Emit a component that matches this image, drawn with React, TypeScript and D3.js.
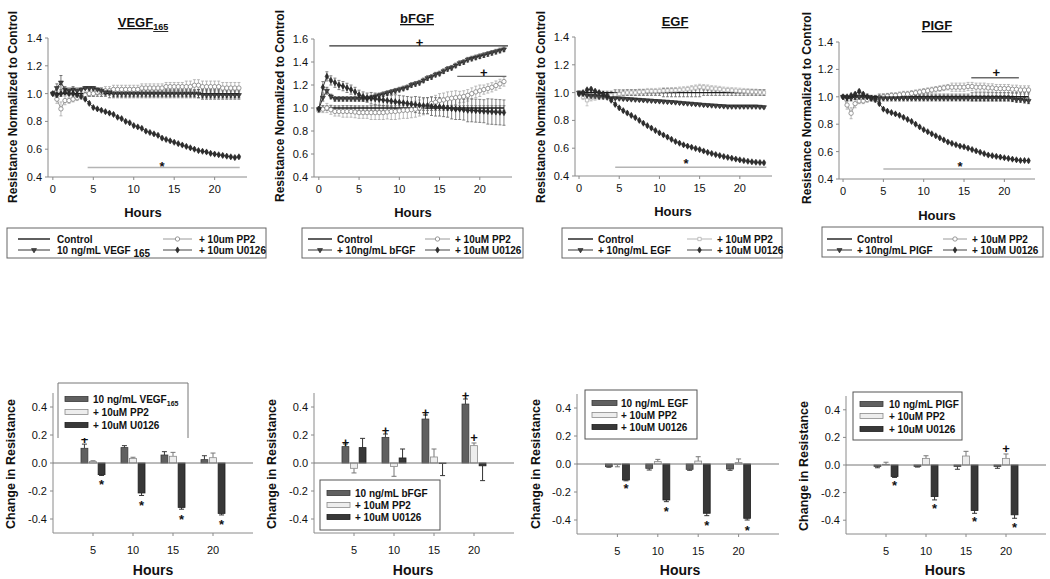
import React from "react";
import * as d3 from "d3";

const FONT = "'Liberation Sans', Arial, Helvetica, sans-serif";

// ---------------- time course data (hours) ----------------
const HOURS = [0,0.5,1,1.5,2,2.5,3,3.5,4,4.5,5,5.5,6,6.5,7,7.5,8,8.5,9,9.5,10,10.5,11,11.5,12,12.5,13,13.5,14,14.5,15,15.5,16,16.5,17,17.5,18,18.5,19,19.5,20,20.5,21,21.5,22,22.5,23];
const TOP_X_TICKS = [0, 5, 10, 15, 20];

// VEGF165
const VEGF_CONTROL = [1,1,1,1,1,1,1,1,1,1, 1,1,1,1,1,1,1,1,1,1, 1,1,1,1,1,1,1,1,1,1, 1,1,1,1,1,1,1,1,1,1, 1,1,1,1,1,1,1];
const VEGF_CONTROL_ERR = [0,0.01,0.02,0.01,0.01,0.01,0.01,0.01,0.01,0.02, 0.02,0.02,0.02,0.02,0.03,0.03,0.03,0.03,0.03,0.03, 0.03,0.03,0.03,0.03,0.03,0.03,0.03,0.03,0.03,0.03, 0.03,0.03,0.03,0.03,0.03,0.03,0.03,0.03,0.03,0.03, 0.03,0.03,0.03,0.03,0.03,0.03,0.03];
const VEGF_TREAT = [1.00,1.04,1.08,1.03,1.02,1.03,1.02,1.03,1.04,1.04, 1.04,1.03,1.02,1.01,1.01,1.00,1.00,1.00,1.00,1.00, 1.00,1.00,1.00,1.00,1.00,1.00,1.00,1.00,1.00,1.00, 1.00,1.00,1.00,1.00,1.00,1.00,1.00,0.99,0.99,0.99, 0.99,0.99,0.99,0.99,0.99,0.99,0.99];
const VEGF_TREAT_ERR = [0.01,0.03,0.05,0.02,0.02,0.02,0.02,0.01,0.01,0.01, 0.01,0.01,0.02,0.02,0.02,0.02,0.02,0.02,0.02,0.02, 0.02,0.02,0.02,0.02,0.02,0.02,0.02,0.02,0.02,0.02, 0.02,0.02,0.02,0.02,0.02,0.02,0.03,0.03,0.03,0.03, 0.03,0.03,0.03,0.03,0.03,0.03,0.03];
const VEGF_PP2 = [1.00,0.96,0.89,0.95,0.95,0.96,0.97,0.98,0.99,1.00, 1.00,1.01,1.01,1.02,1.02,1.03,1.03,1.03,1.03,1.03, 1.03,1.03,1.04,1.04,1.04,1.04,1.04,1.04,1.05,1.05, 1.05,1.05,1.05,1.05,1.05,1.06,1.06,1.05,1.05,1.05, 1.05,1.05,1.04,1.04,1.04,1.04,1.04];
const VEGF_PP2_ERR = [0.01,0.03,0.05,0.03,0.02,0.02,0.02,0.02,0.02,0.02, 0.02,0.02,0.03,0.03,0.03,0.03,0.03,0.03,0.03,0.03, 0.03,0.03,0.03,0.03,0.03,0.03,0.03,0.03,0.03,0.03, 0.03,0.03,0.03,0.04,0.04,0.04,0.04,0.04,0.04,0.04, 0.04,0.04,0.04,0.04,0.04,0.04,0.04];
const VEGF_U0126 = [1.00,0.99,1.00,1.01,1.00,1.00,0.99,0.98,0.96,0.93, 0.90,0.89,0.88,0.87,0.86,0.85,0.83,0.82,0.80,0.79, 0.77,0.76,0.75,0.73,0.72,0.71,0.70,0.68,0.67,0.66, 0.65,0.64,0.63,0.62,0.61,0.60,0.59,0.585,0.58,0.57, 0.565,0.56,0.555,0.55,0.545,0.54,0.545];
const VEGF_U0126_ERR = [0.01,0.01,0.01,0.01,0.01,0.01,0.01,0.01,0.01,0.01, 0.01,0.01,0.01,0.01,0.01,0.01,0.01,0.01,0.01,0.01, 0.01,0.01,0.01,0.01,0.01,0.01,0.01,0.01,0.01,0.01, 0.01,0.01,0.01,0.01,0.01,0.01,0.01,0.01,0.01,0.01, 0.01,0.01,0.01,0.01,0.01,0.01,0.01];

// bFGF
const BFGF_CONTROL = [1,1,1,1,1,1,1,1,1,1, 1,1,1,1,1,1,1,1,1,1, 1,1,1,1,1,1,1,1,1,1, 1,1,1,1,1,1,1,1,1,1, 1,1,1,1,1,1,1];
const BFGF_CONTROL_ERR = [0,0.02,0.02,0.02,0.02,0.02,0.02,0.02,0.02,0.02, 0.02,0.02,0.02,0.02,0.02,0.02,0.02,0.02,0.02,0.02, 0.02,0.02,0.02,0.02,0.02,0.02,0.02,0.02,0.02,0.02, 0.02,0.02,0.02,0.02,0.02,0.02,0.02,0.02,0.02,0.02, 0.02,0.02,0.02,0.02,0.02,0.02,0.02];
const BFGF_TREAT = [0.99,1.09,1.15,1.10,1.08,1.08,1.08,1.08,1.08,1.08, 1.08,1.08,1.08,1.09,1.10,1.11,1.12,1.13,1.14,1.15, 1.16,1.17,1.18,1.20,1.21,1.22,1.24,1.26,1.27,1.29, 1.30,1.32,1.34,1.35,1.37,1.39,1.40,1.42,1.43,1.44, 1.45,1.46,1.47,1.48,1.49,1.50,1.51];
const BFGF_TREAT_ERR = [0.01,0.03,0.03,0.02,0.02,0.02,0.02,0.02,0.02,0.02, 0.02,0.02,0.02,0.02,0.02,0.02,0.02,0.02,0.02,0.02, 0.02,0.02,0.02,0.02,0.02,0.02,0.02,0.02,0.02,0.02, 0.02,0.02,0.02,0.02,0.02,0.02,0.02,0.02,0.02,0.02, 0.02,0.02,0.02,0.02,0.02,0.02,0.02];
const BFGF_PP2 = [0.98,0.99,1.00,0.985,0.97,0.97,0.97,0.97,0.97,0.965, 0.96,0.96,0.96,0.96,0.96,0.96,0.96,0.965,0.97,0.97, 0.975,0.98,0.98,0.985,0.99,1.00,1.01,1.02,1.04,1.05, 1.065,1.07,1.08,1.085,1.09,1.095,1.10,1.11,1.125,1.14, 1.15,1.16,1.17,1.18,1.195,1.21,1.23];
const BFGF_PP2_ERR = [0.02,0.03,0.04,0.04,0.04,0.04,0.05,0.05,0.05,0.05, 0.05,0.05,0.05,0.06,0.06,0.06,0.06,0.06,0.07,0.07, 0.07,0.07,0.07,0.07,0.07,0.07,0.07,0.07,0.06,0.06, 0.06,0.06,0.06,0.06,0.06,0.05,0.05,0.05,0.05,0.05, 0.05,0.04,0.04,0.04,0.04,0.04,0.04];
const BFGF_U0126 = [0.99,1.18,1.275,1.24,1.22,1.20,1.19,1.175,1.16,1.14, 1.115,1.10,1.09,1.085,1.08,1.075,1.07,1.065,1.06,1.055, 1.05,1.045,1.04,1.035,1.03,1.025,1.02,1.02,1.015,1.01, 1.01,1.005,1.00,0.995,0.99,0.99,0.985,0.98,0.98,0.977, 0.975,0.972,0.97,0.968,0.965,0.963,0.96];
const BFGF_U0126_ERR = [0.02,0.05,0.04,0.04,0.04,0.04,0.04,0.04,0.04,0.04, 0.04,0.04,0.04,0.05,0.05,0.05,0.05,0.05,0.05,0.06, 0.06,0.06,0.06,0.06,0.07,0.07,0.07,0.07,0.08,0.08, 0.08,0.08,0.08,0.09,0.09,0.09,0.09,0.10,0.10,0.10, 0.10,0.10,0.11,0.11,0.11,0.11,0.11];

// EGF
const EGF_CONTROL = [1,1,1,1,1,1,1,1,1,1, 1,1,1,1,1,1,1,1,1,1, 1,1,1,1,1,1,1,1,1,1, 1,1,1,1,1,1,1,1,1,1, 1,1,1,1,1,1,1];
const EGF_CONTROL_ERR = [0,0.01,0.01,0.01,0.01,0.01,0.01,0.01,0.01,0.02, 0.02,0.02,0.02,0.02,0.02,0.02,0.02,0.02,0.02,0.02, 0.02,0.03,0.03,0.03,0.03,0.03,0.03,0.03,0.03,0.03, 0.03,0.02,0.02,0.02,0.02,0.02,0.02,0.02,0.02,0.02, 0.02,0.02,0.02,0.02,0.02,0.02,0.02];
const EGF_TREAT = [1.00,0.99,0.98,0.975,0.975,0.97,0.97,0.965,0.96,0.96, 0.958,0.956,0.954,0.952,0.95,0.948,0.946,0.944,0.942,0.94, 0.938,0.936,0.934,0.932,0.93,0.927,0.924,0.922,0.92,0.917, 0.915,0.912,0.91,0.908,0.906,0.904,0.902,0.90,0.90,0.90, 0.90,0.90,0.90,0.90,0.90,0.898,0.895];
const EGF_TREAT_ERR = [0.01,0.01,0.01,0.01,0.01,0.01,0.01,0.01,0.01,0.01, 0.01,0.01,0.01,0.01,0.01,0.01,0.01,0.01,0.01,0.01, 0.01,0.01,0.01,0.01,0.01,0.01,0.01,0.01,0.01,0.01, 0.01,0.01,0.01,0.01,0.01,0.01,0.01,0.01,0.01,0.01, 0.01,0.01,0.01,0.01,0.01,0.01,0.01];
const EGF_PP2 = [1.00,0.97,0.945,0.96,0.965,0.97,0.97,0.975,0.98,0.985, 0.99,0.995,1.00,1.00,1.00,1.005,1.005,1.01,1.01,1.01, 1.012,1.014,1.015,1.016,1.017,1.02,1.022,1.025,1.03,1.035, 1.04,1.038,1.035,1.03,1.028,1.025,1.02,1.018,1.016,1.014, 1.012,1.01,1.008,1.006,1.005,1.002,1.00];
const EGF_PP2_ERR = [0.01,0.02,0.04,0.02,0.02,0.02,0.02,0.02,0.02,0.02, 0.02,0.02,0.02,0.02,0.02,0.02,0.02,0.02,0.02,0.02, 0.02,0.02,0.02,0.02,0.02,0.02,0.02,0.02,0.02,0.02, 0.02,0.02,0.02,0.02,0.02,0.02,0.02,0.02,0.02,0.02, 0.02,0.02,0.02,0.02,0.02,0.02,0.02];
const EGF_U0126 = [0.99,1.00,1.02,1.025,1.01,1.00,0.99,0.98,0.945,0.915, 0.89,0.87,0.853,0.836,0.82,0.80,0.78,0.762,0.745,0.727, 0.71,0.695,0.68,0.664,0.648,0.636,0.624,0.615,0.607,0.598, 0.59,0.58,0.57,0.562,0.554,0.547,0.54,0.534,0.528,0.522, 0.516,0.511,0.506,0.502,0.499,0.497,0.495];
const EGF_U0126_ERR = [0.01,0.01,0.01,0.01,0.01,0.01,0.01,0.01,0.01,0.01, 0.01,0.01,0.01,0.01,0.01,0.01,0.01,0.01,0.01,0.01, 0.01,0.01,0.01,0.01,0.01,0.01,0.01,0.01,0.01,0.01, 0.01,0.01,0.01,0.01,0.01,0.01,0.01,0.01,0.01,0.01, 0.01,0.01,0.01,0.01,0.01,0.01,0.01];

// PlGF
const PIGF_CONTROL = [1,1,1,1,1,1,1,1,1,1, 1,1,1,1,1,1,1,1,1,1, 1,1,1,1,1,1,1,1,1,1, 1,1,1,1,1,1,1,1,1,1, 1,1,1,1,1,1,1];
const PIGF_CONTROL_ERR = [0,0.01,0.01,0.01,0.01,0.01,0.01,0.01,0.01,0.02, 0.02,0.02,0.02,0.02,0.02,0.02,0.02,0.02,0.02,0.02, 0.02,0.02,0.02,0.02,0.02,0.02,0.02,0.02,0.02,0.02, 0.02,0.02,0.03,0.03,0.03,0.03,0.03,0.03,0.03,0.03, 0.03,0.03,0.03,0.03,0.03,0.03,0.03];
const PIGF_TREAT = [1.00,0.99,0.99,1.00,1.00,1.00,1.00,0.99,0.99,0.99, 0.99,0.99,0.99,0.99,0.99,0.99,0.99,0.99,0.99,0.99, 0.99,0.99,0.99,0.99,0.99,0.99,0.99,0.99,0.99,0.99, 0.99,0.99,0.99,0.99,0.99,0.99,0.99,0.99,0.99,0.99, 0.99,0.99,0.985,0.98,0.98,0.975,0.97];
const PIGF_TREAT_ERR = [0.01,0.02,0.02,0.02,0.02,0.02,0.02,0.02,0.02,0.02, 0.02,0.02,0.02,0.02,0.02,0.02,0.02,0.02,0.02,0.02, 0.02,0.02,0.02,0.02,0.02,0.02,0.02,0.02,0.02,0.02, 0.02,0.02,0.02,0.02,0.02,0.02,0.02,0.02,0.02,0.02, 0.02,0.02,0.02,0.02,0.02,0.02,0.02];
const PIGF_PP2 = [1.00,0.94,0.88,0.95,0.97,0.97,0.98,0.99,0.98,0.99, 1.00,1.005,1.01,1.01,1.015,1.02,1.02,1.025,1.03,1.035, 1.04,1.045,1.05,1.055,1.06,1.065,1.07,1.07,1.07,1.07, 1.07,1.075,1.075,1.07,1.07,1.07,1.065,1.065,1.06,1.06, 1.06,1.06,1.055,1.055,1.05,1.05,1.05];
const PIGF_PP2_ERR = [0.01,0.03,0.04,0.03,0.02,0.02,0.02,0.02,0.02,0.02, 0.02,0.02,0.02,0.02,0.02,0.02,0.02,0.02,0.02,0.02, 0.02,0.02,0.02,0.02,0.02,0.02,0.02,0.03,0.03,0.03, 0.03,0.03,0.03,0.03,0.03,0.03,0.03,0.03,0.03,0.03, 0.03,0.03,0.03,0.03,0.03,0.03,0.03];
const PIGF_U0126 = [1.00,1.00,1.01,1.02,1.04,1.02,1.00,0.99,0.98,0.95, 0.91,0.895,0.885,0.875,0.865,0.85,0.835,0.82,0.80,0.78, 0.76,0.745,0.73,0.715,0.70,0.685,0.67,0.66,0.65,0.64, 0.635,0.625,0.615,0.605,0.595,0.585,0.575,0.57,0.565,0.56, 0.555,0.55,0.545,0.54,0.535,0.535,0.533];
const PIGF_U0126_ERR = [0.01,0.01,0.01,0.01,0.01,0.01,0.01,0.01,0.01,0.01, 0.01,0.01,0.01,0.01,0.01,0.01,0.01,0.01,0.01,0.01, 0.01,0.01,0.01,0.01,0.01,0.01,0.01,0.01,0.01,0.01, 0.01,0.01,0.01,0.01,0.01,0.01,0.01,0.01,0.01,0.01, 0.01,0.01,0.01,0.01,0.01,0.01,0.01];

// significance annotations (hours, value)
const VEGF_SIG_LINES = [{ h0: 4.3, h1: 23.1, v: 0.468, kind: "light" }];
const VEGF_SIG_MARKS = [{ h: 13.5, v: 0.5, sym: "*" }];
const BFGF_SIG_LINES = [{ h0: 1.3, h1: 23.5, v: 1.54, kind: "dark" }, { h0: 17.2, h1: 23.3, v: 1.275, kind: "mid" }];
const BFGF_SIG_MARKS = [{ h: 12.5, v: 1.57, sym: "+" }, { h: 20.5, v: 1.31, sym: "+" }];
const EGF_SIG_LINES = [{ h0: 4.5, h1: 23.3, v: 0.463, kind: "light" }];
const EGF_SIG_MARKS = [{ h: 13.3, v: 0.515, sym: "*" }];
const PIGF_SIG_LINES = [{ h0: 5, h1: 23.3, v: 0.473, kind: "light" }, { h0: 15.9, h1: 21.8, v: 1.139, kind: "mid" }];
const PIGF_SIG_MARKS = [{ h: 14.5, v: 0.516, sym: "*" }, { h: 19, v: 1.18, sym: "+" }];

// ---------------- bar data ----------------
const BAR_HOURS = [5, 10, 15, 20];
const VEGF_BAR_TREAT = [0.105, 0.11, 0.057, 0.024];
const VEGF_BAR_TREAT_ERR = [0.03, 0.014, 0.024, 0.028];
const VEGF_BAR_PP2 = [0.01, 0.033, 0.048, 0.038];
const VEGF_BAR_PP2_ERR = [0.006, 0.008, 0.028, 0.033];
const VEGF_BAR_U0126 = [-0.083, -0.214, -0.317, -0.36];
const VEGF_BAR_U0126_ERR = [0.006, 0.018, 0.013, 0.011];
const BFGF_BAR_TREAT = [0.117, 0.183, 0.314, 0.421];
const BFGF_BAR_TREAT_ERR = [0.019, 0.024, 0.029, 0.036];
const BFGF_BAR_PP2 = [-0.038, -0.025, 0.043, 0.124];
const BFGF_BAR_PP2_ERR = [0.033, 0.07, 0.057, 0.019];
const BFGF_BAR_U0126 = [0.11, 0.036, -0.003, -0.02];
const BFGF_BAR_U0126_ERR = [0.066, 0.064, 0.087, 0.106];
const EGF_BAR_TREAT = [-0.019, -0.031, -0.038, -0.036];
const EGF_BAR_TREAT_ERR = [0.004, 0.012, 0.007, 0.009];
const EGF_BAR_PP2 = [-0.005, 0.017, 0.021, 0.01];
const EGF_BAR_PP2_ERR = [0.015, 0.016, 0.031, 0.026];
const EGF_BAR_U0126 = [-0.114, -0.257, -0.352, -0.388];
const EGF_BAR_U0126_ERR = [0.006, 0.012, 0.017, 0.012];
const PIGF_BAR_TREAT = [-0.01, -0.01, -0.01, -0.01];
const PIGF_BAR_TREAT_ERR = [0.01, 0.005, 0.021, 0.014];
const PIGF_BAR_PP2 = [0.005, 0.048, 0.065, 0.048];
const PIGF_BAR_PP2_ERR = [0.015, 0.019, 0.034, 0.032];
const PIGF_BAR_U0126 = [-0.084, -0.229, -0.33, -0.361];
const PIGF_BAR_U0126_ERR = [0.006, 0.024, 0.02, 0.025];

const VEGF_BAR_MARKS = [{ h: 5, s: 0, sym: "+", v: 0.165 }, { h: 5, s: 2, sym: "*", v: -0.135 }, { h: 10, s: 2, sym: "*", v: -0.285 }, { h: 15, s: 2, sym: "*", v: -0.385 }, { h: 20, s: 2, sym: "*", v: -0.42 }];
const BFGF_BAR_MARKS = [{ h: 5, s: 0, sym: "+", v: 0.15 }, { h: 10, s: 0, sym: "+", v: 0.23 }, { h: 15, s: 0, sym: "+", v: 0.36 }, { h: 20, s: 0, sym: "+", v: 0.48 }, { h: 20, s: 1, sym: "+", v: 0.18 }];
const EGF_BAR_MARKS = [{ h: 5, s: 2, sym: "*", v: -0.155 }, { h: 10, s: 2, sym: "*", v: -0.32 }, { h: 15, s: 2, sym: "*", v: -0.42 }, { h: 20, s: 2, sym: "*", v: -0.45 }];
const PIGF_BAR_MARKS = [{ h: 5, s: 2, sym: "*", v: -0.13 }, { h: 10, s: 2, sym: "*", v: -0.29 }, { h: 15, s: 2, sym: "*", v: -0.385 }, { h: 20, s: 2, sym: "*", v: -0.43 }, { h: 20, s: 1, sym: "+", v: 0.12 }];

// ---------------- text ----------------
const TOP_TITLES = [["VEGF", "165"], ["bFGF", ""], ["EGF", ""], ["PIGF", ""]];
const TOP_Y_MAX = [1.4, 1.6, 1.4, 1.4];
const TOP_LEGENDS = [
  [["Control", ""], ["10 ng/mL VEGF ", "165"], ["+ 10um PP2", ""], ["+ 10um U0126", ""]],
  [["Control", ""], ["+ 10ng/mL bFGF", ""], ["+ 10uM PP2", ""], ["+ 10uM U0126", ""]],
  [["Control", ""], ["+ 10ng/mL EGF", ""], ["+ 10uM PP2", ""], ["+ 10uM U0126", ""]],
  [["Control", ""], ["+ 10ng/mL PIGF", ""], ["+ 10uM PP2", ""], ["+ 10uM U0126", ""]],
];
const BAR_LEGENDS = [
  [["10 ng/mL VEGF", "165"], ["+ 10uM PP2", ""], ["+ 10uM U0126", ""]],
  [["10 ng/mL bFGF", ""], ["+ 10uM PP2", ""], ["+ 10uM U0126", ""]],
  [["10 ng/mL EGF", ""], ["+ 10uM PP2", ""], ["+ 10uM U0126", ""]],
  [["10 ng/mL PIGF", ""], ["+ 10uM PP2", ""], ["+ 10uM U0126", ""]],
];

const TOP_DATA = [
  { ctrl: [VEGF_CONTROL, VEGF_CONTROL_ERR], treat: [VEGF_TREAT, VEGF_TREAT_ERR], pp2: [VEGF_PP2, VEGF_PP2_ERR], u0126: [VEGF_U0126, VEGF_U0126_ERR], lines: VEGF_SIG_LINES, marks: VEGF_SIG_MARKS },
  { ctrl: [BFGF_CONTROL, BFGF_CONTROL_ERR], treat: [BFGF_TREAT, BFGF_TREAT_ERR], pp2: [BFGF_PP2, BFGF_PP2_ERR], u0126: [BFGF_U0126, BFGF_U0126_ERR], lines: BFGF_SIG_LINES, marks: BFGF_SIG_MARKS },
  { ctrl: [EGF_CONTROL, EGF_CONTROL_ERR], treat: [EGF_TREAT, EGF_TREAT_ERR], pp2: [EGF_PP2, EGF_PP2_ERR], u0126: [EGF_U0126, EGF_U0126_ERR], lines: EGF_SIG_LINES, marks: EGF_SIG_MARKS },
  { ctrl: [PIGF_CONTROL, PIGF_CONTROL_ERR], treat: [PIGF_TREAT, PIGF_TREAT_ERR], pp2: [PIGF_PP2, PIGF_PP2_ERR], u0126: [PIGF_U0126, PIGF_U0126_ERR], lines: PIGF_SIG_LINES, marks: PIGF_SIG_MARKS },
];
const BAR_DATA = [
  { vals: [VEGF_BAR_TREAT, VEGF_BAR_PP2, VEGF_BAR_U0126], errs: [VEGF_BAR_TREAT_ERR, VEGF_BAR_PP2_ERR, VEGF_BAR_U0126_ERR], marks: VEGF_BAR_MARKS },
  { vals: [BFGF_BAR_TREAT, BFGF_BAR_PP2, BFGF_BAR_U0126], errs: [BFGF_BAR_TREAT_ERR, BFGF_BAR_PP2_ERR, BFGF_BAR_U0126_ERR], marks: BFGF_BAR_MARKS },
  { vals: [EGF_BAR_TREAT, EGF_BAR_PP2, EGF_BAR_U0126], errs: [EGF_BAR_TREAT_ERR, EGF_BAR_PP2_ERR, EGF_BAR_U0126_ERR], marks: EGF_BAR_MARKS },
  { vals: [PIGF_BAR_TREAT, PIGF_BAR_PP2, PIGF_BAR_U0126], errs: [PIGF_BAR_TREAT_ERR, PIGF_BAR_PP2_ERR, PIGF_BAR_U0126_ERR], marks: PIGF_BAR_MARKS },
];

// ---------------- layout ----------------
const TOP_LAYOUT = [
  { left: 48, right: 247, xDomain: [-0.6, 24], top: 38, bottom: 177, titleX: 143, titleY: 27, yTitleX: 17, yTitleY: 107, hoursX: 143, hoursY: 217, pp2Shape: "circle",
    lg: { x0: 7, y0: 228, x1: 266, y1: 258, c1: [18, 50], t1: 57, c2: [163, 192], t2: 199, r1: 239, r2: 250 } },
  { left: 314, right: 512, xDomain: [-0.6, 24], top: 39, bottom: 177, titleX: 417, titleY: 23, yTitleX: 284, yTitleY: 106, hoursX: 413, hoursY: 217, pp2Shape: "circle",
    lg: { x0: 302, y0: 228, x1: 523, y1: 258, c1: [308, 332], t1: 337, c2: [425, 450], t2: 455, r1: 239, r2: 250 } },
  { left: 575, right: 772, xDomain: [-0.5, 24], top: 37, bottom: 176, titleX: 675, titleY: 26, yTitleX: 545, yTitleY: 107, hoursX: 673, hoursY: 216, pp2Shape: "square",
    lg: { x0: 562, y0: 228, x1: 782, y1: 258, c1: [568, 593], t1: 598, c2: [687, 712], t2: 717, r1: 239, r2: 250 } },
  { left: 839, right: 1035, xDomain: [-0.5, 23.8], top: 42, bottom: 179, titleX: 937, titleY: 30, yTitleX: 811, yTitleY: 108, hoursX: 937, hoursY: 220, pp2Shape: "circle",
    lg: { x0: 822, y0: 227, x1: 1043, y1: 257, c1: [827, 852], t1: 857, c2: [943, 967], t2: 972, r1: 239, r2: 250 } },
];
const BAR_LAYOUT = [
  { left: 53, right: 253, top: 393, bottom: 533, yTitleX: 15, yTitleY: 464, hoursX: 153, hoursY: 575,
    lg: { x0: 58, y0: 383, x1: 188, y1: 438, sw: [65, 88], tx: 93, rows: [399, 412, 425], open: true } },
  { left: 314, right: 514, top: 393, bottom: 533, yTitleX: 276, yTitleY: 464, hoursX: 413, hoursY: 575,
    lg: { x0: 320, y0: 480, x1: 440, y1: 530, sw: [327, 350], tx: 355, rows: [493, 505, 517], open: false } },
  { left: 577, right: 779, top: 394, bottom: 534, yTitleX: 540, yTitleY: 464, hoursX: 680, hoursY: 575,
    lg: { x0: 585, y0: 390, x1: 697, y1: 439, sw: [592, 617], tx: 621, rows: [403, 415, 427], open: false } },
  { left: 846, right: 1046, top: 396, bottom: 534, yTitleX: 808, yTitleY: 466, hoursX: 945, hoursY: 575,
    lg: { x0: 853, y0: 392, x1: 962, y1: 440, sw: [860, 883], tx: 889, rows: [404, 416, 429], open: false } },
];

// ---------------- styles ----------------
const AXIS = "#8a8a8a";
const SERIES_STYLE: any = {
  ctrl: { line: "#1a1a1a", width: 1.4, err: "#666", fill: "none", stroke: "none" },
  treat: { line: "#333", width: 1, err: "#555", fill: "#444", stroke: "#222" },
  pp2: { line: "#9a9a9a", width: 1, err: "#aaa", fill: "#fff", stroke: "#808080" },
  pp2sq: { line: "#b5b5b5", width: 1, err: "#bbb", fill: "#fff", stroke: "#b0b0b0" },
  u0126: { line: "#444", width: 1, err: "#666", fill: "#2e2e2e", stroke: "#1e1e1e" },
};
const SIG_COLOR: any = { light: "#b4b4b4", mid: "#6a6a6a", dark: "#333" };
const BAR_STYLE = [
  { fill: "#606060", stroke: "#3a3a3a", err: "#3a3a3a" },
  { fill: "#ededed", stroke: "#8a8a8a", err: "#777" },
  { fill: "#383838", stroke: "#1e1e1e", err: "#333" },
];

const TRI = d3.symbol(d3.symbolTriangle, 11)() as string;
const DIA = d3.symbol(d3.symbolDiamond, 11)() as string;
const SQR = d3.symbol(d3.symbolSquare, 11)() as string;
const CIR = d3.symbol(d3.symbolCircle, 15)() as string;

function Marker({ shape, cx, cy, st }: any) {
  if (shape === "tri") return <path d={TRI} transform={`translate(${cx},${cy}) rotate(180)`} fill={st.fill} stroke={st.stroke} strokeWidth={0.6} />;
  if (shape === "dia") return <path d={DIA} transform={`translate(${cx},${cy})`} fill={st.fill} stroke={st.stroke} strokeWidth={0.6} />;
  if (shape === "square") return <path d={SQR} transform={`translate(${cx},${cy})`} fill={st.fill} stroke={st.stroke} strokeWidth={0.8} />;
  if (shape === "circle") return <path d={CIR} transform={`translate(${cx},${cy})`} fill={st.fill} stroke={st.stroke} strokeWidth={0.8} />;
  return null;
}

function Label({ x, y, parts, size, anchor, weight, subSize }: any) {
  return (
    <text x={x} y={y} fontSize={size} fontWeight={weight || "bold"} textAnchor={anchor || "start"} fill="#111">
      {parts[0]}
      {parts[1] ? <tspan fontSize={subSize || size * 0.75} dy={size * 0.3}>{parts[1]}</tspan> : null}
    </text>
  );
}

function symOffset(sym: string) {
  return sym === "*" ? 7.5 : 4.5;
}

function TimePanel({ L, D, yMax, title, legend }: any) {
  const x = d3.scaleLinear().domain(L.xDomain).range([L.left, L.right]);
  const y = d3.scaleLinear().domain([0.4, yMax]).range([L.bottom, L.top]);
  const yTicks = y.ticks(6);
  const line = d3.line<number>().x((_, i) => x(HOURS[i])).y((v) => y(v));
  const pp2Key = L.pp2Shape === "square" ? "pp2sq" : "pp2";
  const layers = [
    { key: "pp2", st: SERIES_STYLE[pp2Key], shape: L.pp2Shape, data: D.pp2 },
    { key: "ctrl", st: SERIES_STYLE.ctrl, shape: null, data: D.ctrl },
    { key: "treat", st: SERIES_STYLE.treat, shape: "tri", data: D.treat },
    { key: "u0126", st: SERIES_STYLE.u0126, shape: "dia", data: D.u0126 },
  ];
  const errPath = (vals: number[], errs: number[]) =>
    vals
      .map((v, i) => {
        const e = errs[i];
        if (!e) return "";
        const cx = x(HOURS[i]);
        const a = y(v + e), b = y(v - e);
        return `M${cx},${a}V${b}M${cx - 1.5},${a}H${cx + 1.5}M${cx - 1.5},${b}H${cx + 1.5}`;
      })
      .join("");
  const lg = L.lg;
  const legendItems = [
    { lx: lg.c1, tx: lg.t1, ry: lg.r1, layer: layers[1], text: legend[0] },
    { lx: lg.c1, tx: lg.t1, ry: lg.r2, layer: layers[2], text: legend[1] },
    { lx: lg.c2, tx: lg.t2, ry: lg.r1, layer: layers[0], text: legend[2] },
    { lx: lg.c2, tx: lg.t2, ry: lg.r2, layer: layers[3], text: legend[3] },
  ];
  return (
    <g>
      <line x1={L.left} x2={L.left} y1={y(yMax)} y2={y(0.4)} stroke={AXIS} strokeWidth={1} />
      <line x1={L.left} x2={L.right} y1={y(0.4)} y2={y(0.4)} stroke={AXIS} strokeWidth={1} />
      {yTicks.map((t) => (
        <g key={"y" + t}>
          <line x1={L.left - 3} x2={L.left} y1={y(t)} y2={y(t)} stroke={AXIS} />
          <text x={L.left - 6} y={y(t) + 4} fontSize={11} textAnchor="end" fill="#111">{t.toFixed(1)}</text>
        </g>
      ))}
      {TOP_X_TICKS.map((t) => (
        <g key={"x" + t}>
          <line x1={x(t)} x2={x(t)} y1={y(0.4)} y2={y(0.4) + 3} stroke={AXIS} />
          <text x={x(t)} y={y(0.4) + 16} fontSize={11} textAnchor="middle" fill="#111">{t}</text>
        </g>
      ))}
      {layers.map((ly) => (
        <path key={"e" + ly.key} d={errPath(ly.data[0], ly.data[1])} stroke={ly.st.err} strokeWidth={0.8} fill="none" />
      ))}
      {layers.map((ly) => (
        <path key={"l" + ly.key} d={line(ly.data[0]) as string} stroke={ly.st.line} strokeWidth={ly.st.width} fill="none" />
      ))}
      {layers.map((ly) =>
        ly.shape ? (
          <g key={"m" + ly.key}>
            {ly.data[0].map((v: number, i: number) => (
              <Marker key={i} shape={ly.shape} cx={x(HOURS[i])} cy={y(v)} st={ly.st} />
            ))}
          </g>
        ) : null
      )}
      {D.lines.map((s: any, i: number) => (
        <line key={"s" + i} x1={x(s.h0)} x2={x(s.h1)} y1={y(s.v)} y2={y(s.v)} stroke={SIG_COLOR[s.kind]} strokeWidth={1.4} />
      ))}
      {D.marks.map((m: any, i: number) => (
        <text key={"k" + i} x={x(m.h)} y={y(m.v) + symOffset(m.sym)} fontSize={13} fontWeight="bold" textAnchor="middle" fill="#111">{m.sym}</text>
      ))}
      <text x={L.titleX} y={L.titleY} fontSize={13} fontWeight="bold" textAnchor="middle" textDecoration="underline" fill="#111">
        {title[0]}
        {title[1] ? <tspan fontSize={9} dy={3}>{title[1]}</tspan> : null}
      </text>
      <text transform={`translate(${L.yTitleX},${L.yTitleY}) rotate(-90)`} fontSize={12} fontWeight="bold" textAnchor="middle" fill="#111">
        Resistance Normalized to Control
      </text>
      <text x={L.hoursX} y={L.hoursY} fontSize={13} fontWeight="bold" textAnchor="middle" fill="#111">Hours</text>
      <rect x={lg.x0} y={lg.y0} width={lg.x1 - lg.x0} height={lg.y1 - lg.y0} fill="#fff" stroke="#666" strokeWidth={1} />
      {legendItems.map((it, i) => (
        <g key={"lg" + i}>
          <line x1={it.lx[0]} x2={it.lx[1]} y1={it.ry} y2={it.ry} stroke={it.layer.st.line} strokeWidth={it.layer.st.width} />
          {it.layer.shape ? <Marker shape={it.layer.shape} cx={(it.lx[0] + it.lx[1]) / 2} cy={it.ry} st={it.layer.st} /> : null}
          <Label x={it.tx} y={it.ry + 3.5} parts={it.text} size={10} subSize={10} />
        </g>
      ))}
    </g>
  );
}

function BarPanel({ L, D, legend }: any) {
  const x = d3.scaleLinear().domain([0, 25]).range([L.left, L.right]);
  const y = d3.scaleLinear().domain([-0.5, 0.5]).range([L.bottom, L.top]);
  const band = d3.scaleBand<number>().domain([0, 1, 2]).range([-12, 12]).paddingInner(0.2);
  const bw = band.bandwidth();
  const yTicks = y.ticks(5);
  const lg = L.lg;
  return (
    <g>
      <line x1={L.left} x2={L.left} y1={y(0.5)} y2={y(-0.5)} stroke={AXIS} />
      <line x1={L.left} x2={L.right} y1={y(-0.5)} y2={y(-0.5)} stroke={AXIS} />
      {yTicks.map((t) => (
        <g key={"y" + t}>
          <line x1={L.left - 3} x2={L.left} y1={y(t)} y2={y(t)} stroke={AXIS} />
          <text x={L.left - 6} y={y(t) + 4} fontSize={11} textAnchor="end" fill="#111">{(Math.abs(t) < 1e-9 ? 0 : t).toFixed(1)}</text>
        </g>
      ))}
      {BAR_HOURS.map((h) => (
        <g key={"x" + h}>
          <line x1={x(h)} x2={x(h)} y1={y(-0.5)} y2={y(-0.5) + 3} stroke={AXIS} />
          <text x={x(h)} y={y(-0.5) + 21} fontSize={11} textAnchor="middle" fill="#111">{h}</text>
        </g>
      ))}
      {D.vals.map((vals: number[], s: number) =>
        vals.map((v, i) => {
          const bx = x(BAR_HOURS[i]) + (band(s) as number);
          const e = D.errs[s][i];
          const sign = v < 0 ? -1 : 1;
          const ya = y(v), yb = y(v + sign * e);
          const cx = bx + bw / 2;
          const st = BAR_STYLE[s];
          return (
            <g key={`b${s}-${i}`}>
              <path d={`M${cx},${ya}V${yb}M${cx - 2.5},${yb}H${cx + 2.5}`} stroke={st.err} strokeWidth={1} fill="none" />
              <rect x={bx} y={Math.min(y(0), ya)} width={bw} height={Math.abs(y(0) - ya)} fill={st.fill} stroke={st.stroke} strokeWidth={0.8} />
            </g>
          );
        })
      )}
      <line x1={L.left} x2={L.right} y1={y(0)} y2={y(0)} stroke="#777" strokeWidth={1} />
      {D.marks.map((m: any, i: number) => (
        <text key={"m" + i} x={x(m.h) + (band(m.s) as number) + bw / 2} y={y(m.v) + symOffset(m.sym)} fontSize={13} fontWeight="bold" textAnchor="middle" fill="#111">{m.sym}</text>
      ))}
      <text transform={`translate(${L.yTitleX},${L.yTitleY}) rotate(-90)`} fontSize={12.5} fontWeight="bold" textAnchor="middle" fill="#111">
        Change in Resistance
      </text>
      <text x={L.hoursX} y={L.hoursY} fontSize={14} fontWeight="bold" textAnchor="middle" fill="#111">Hours</text>
      {lg.open ? (
        <g>
          <rect x={lg.x0} y={lg.y0} width={lg.x1 - lg.x0} height={lg.y1 - lg.y0} fill="#fff" stroke="none" />
          <path d={`M${lg.x0},${lg.y1}V${lg.y0}H${lg.x1}V${lg.y1}`} fill="none" stroke="#777" strokeWidth={1} />
        </g>
      ) : (
        <rect x={lg.x0} y={lg.y0} width={lg.x1 - lg.x0} height={lg.y1 - lg.y0} fill="#fff" stroke="#555" strokeWidth={1} />
      )}
      {legend.map((t: any, i: number) => (
        <g key={"lg" + i}>
          <rect x={lg.sw[0]} y={lg.rows[i] - 2.5} width={lg.sw[1] - lg.sw[0]} height={5} fill={BAR_STYLE[i].fill} stroke={BAR_STYLE[i].stroke} strokeWidth={0.8} />
          <Label x={lg.tx} y={lg.rows[i] + 3.5} parts={t} size={10} subSize={7} />
        </g>
      ))}
    </g>
  );
}

export default function App() {
  React.useEffect(() => {
    document.body.style.margin = "0";
  }, []);
  return (
    <svg width={1050} height={579} viewBox="0 0 1050 579" style={{ display: "block", position: "absolute", left: 0, top: 0 }} fontFamily={FONT}>
      <rect x={0} y={0} width={1050} height={579} fill="#fff" />
      {TOP_DATA.map((d, i) => (
        <TimePanel key={"t" + i} L={TOP_LAYOUT[i]} D={d} yMax={TOP_Y_MAX[i]} title={TOP_TITLES[i]} legend={TOP_LEGENDS[i]} />
      ))}
      {BAR_DATA.map((d, i) => (
        <BarPanel key={"b" + i} L={BAR_LAYOUT[i]} D={d} legend={BAR_LEGENDS[i]} />
      ))}
    </svg>
  );
}
